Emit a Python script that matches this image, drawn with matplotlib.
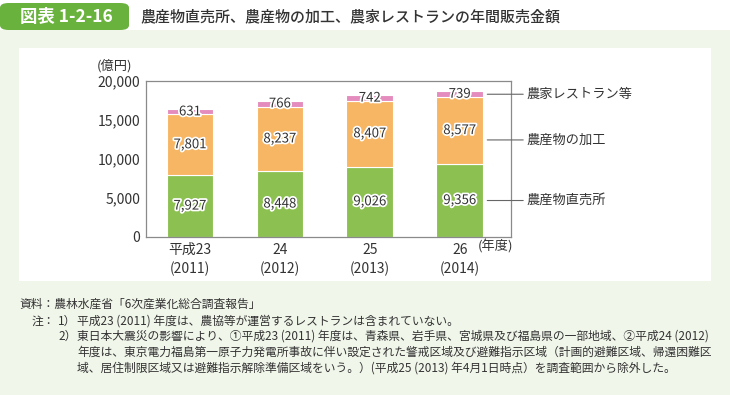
import matplotlib
matplotlib.use("Agg")
import matplotlib.pyplot as plt
import matplotlib.patheffects as pe
from matplotlib.patches import Rectangle, FancyBboxPatch

plt.rcParams['font.family'] = ['Noto Sans CJK JP', 'DejaVu Sans']

years = ['平成23\n(2011)', '24\n(2012)', '25\n(2013)', '26\n(2014)']
direct_sales = [7927, 8448, 9026, 9356]
processing = [7801, 8237, 8407, 8577]
restaurant = [631, 766, 742, 739]
series_names = ['農産物直売所', '農産物の加工', '農家レストラン等']
yticks = [0, 5000, 10000, 15000, 20000]

c_green = '#8cc152'
c_orange = '#f7b664'
c_pink = '#e48cbd'
c_text = '#333333'

W, H = 730, 395
fig = plt.figure(figsize=(W / 100, H / 100), dpi=100)
fig.patch.set_facecolor('white')


def fx(x):
    return x / W


def fy(y):
    return 1 - y / H


# backgrounds
fig.patches.append(Rectangle((0, 0), 1, fy(30), transform=fig.transFigure,
                             facecolor='#f0f6ea', edgecolor='none', zorder=-2))
fig.patches.append(Rectangle((fx(19), fy(281)), fx(711 - 19), (281 - 48) / H,
                             transform=fig.transFigure, facecolor='white',
                             edgecolor='none', zorder=-1))
fig.patches.append(FancyBboxPatch((fx(0), fy(30)), fx(129), 27 / H,
                                  boxstyle='round,pad=0,rounding_size=0.012',
                                  transform=fig.transFigure, facecolor='#6ab23e',
                                  edgecolor='none', zorder=-1))
fig.text(fx(20), fy(17), '図表 1-2-16', color='white', fontsize=12.5,
         fontweight='bold', va='center', ha='left')
fig.text(fx(140), fy(17), '農産物直売所、農産物の加工、農家レストランの年間販売金額',
         color=c_text, fontsize=10.8, fontweight='medium', va='center', ha='left')

ax = fig.add_axes([fx(146), fy(237), fx(511 - 146), (237 - 81) / H])
ax.set_zorder(1)
ax.set_facecolor('white')

x = range(len(years))
bw = 0.52
bottom2 = [a for a in direct_sales]
bottom3 = [a + b for a, b in zip(direct_sales, processing)]
ax.bar(x, direct_sales, width=bw, color=c_green, edgecolor='white', linewidth=0.8)
ax.bar(x, processing, width=bw, bottom=bottom2, color=c_orange, edgecolor='white', linewidth=0.8)
ax.bar(x, restaurant, width=bw, bottom=bottom3, color=c_pink, edgecolor='white', linewidth=0.8)

halo = [pe.withStroke(linewidth=2.5, foreground='white')]
for i in x:
    vals = [(direct_sales[i], 0), (processing[i], bottom2[i]), (restaurant[i], bottom3[i])]
    for v, b in vals:
        ax.text(i, b + v / 2, f'{v:,}', ha='center', va='center', fontsize=9.5,
                color=c_text, path_effects=halo)

ax.set_xlim(-0.49, 3.57)
ax.set_ylim(0, 20000)
ax.set_yticks(yticks)
ax.set_yticklabels([f'{v:,}' for v in yticks])
ax.set_xticks(list(x))
ax.set_xticklabels(years, linespacing=1.45)
ax.tick_params(length=0, labelsize=10, colors=c_text, pad=4)
for s in ax.spines.values():
    s.set_color('#8a8a8a')
    s.set_linewidth(0.9)

ax.text(-0.085, 1.10, '(億円)', transform=ax.transAxes, fontsize=9.5,
        color=c_text, ha='center', va='center')
ax.text(3.4, -1250, '(年度)', fontsize=9.5, color=c_text, ha='center', va='center')

# leader lines to series names
label_y = [direct_sales[-1] / 2, direct_sales[-1] + processing[-1] * 0.36,
           bottom3[-1] + restaurant[-1] / 2]
for name, yv in zip(series_names, label_y):
    ax.annotate(name, xy=(3 + bw / 2, yv), xytext=(526, yv),
                textcoords=('figure pixels', 'data'), xycoords='data',
                ha='left', va='center', fontsize=9.5, color=c_text,
                annotation_clip=False,
                arrowprops=dict(arrowstyle='-', color='#666666', lw=0.8,
                                shrinkA=0, shrinkB=3))

notes = [
    (19, 304, '資料：農林水産省「6次産業化総合調査報告」'),
    (32, 321, '注：'),
    (58, 321, '1）'),
    (77, 321, '平成23 (2011) 年度は、農協等が運営するレストランは含まれていない。'),
    (58, 336, '2）'),
    (77, 336, '東日本大震災の影響により、①平成23 (2011) 年度は、青森県、岩手県、宮城県及び福島県の一部地域、②平成24 (2012)'),
    (77, 352, '年度は、東京電力福島第一原子力発電所事故に伴い設定された警戒区域及び避難指示区域（計画的避難区域、帰還困難区'),
    (77, 368, '域、居住制限区域又は避難指示解除準備区域をいう。）(平成25 (2013) 年4月1日時点）を調査範囲から除外した。'),
]
for nx, ny, t in notes:
    fig.text(fx(nx), fy(ny), t, fontsize=8.5, color=c_text, ha='left', va='center')

fig.savefig('out.png', dpi=100, facecolor=fig.get_facecolor())
